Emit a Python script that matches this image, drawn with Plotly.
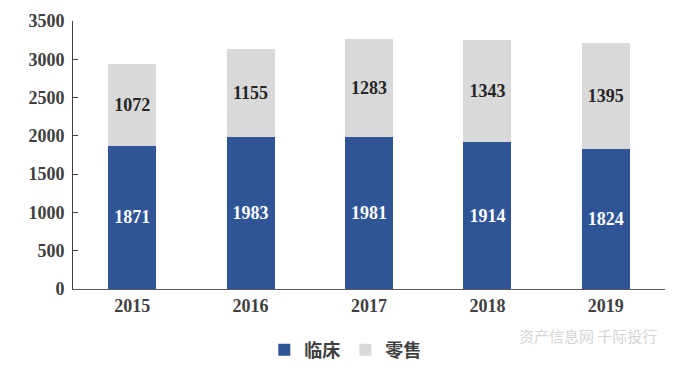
import plotly.graph_objects as go

years = ["2015", "2016", "2017", "2018", "2019"]
clinical = [1871, 1983, 1981, 1914, 1824]
retail = [1072, 1155, 1283, 1343, 1395]
y_ticks = [0, 500, 1000, 1500, 2000, 2500, 3000, 3500]

serif = "Times New Roman, Liberation Serif, serif"
cjk = "Noto Sans CJK SC"

fig = go.Figure()
fig.add_trace(go.Bar(
    x=years, y=clinical, name="临床",
    marker=dict(color="#2F5597", line=dict(width=0)),
    text=clinical, textposition="inside", insidetextanchor="middle", textangle=0,
    textfont=dict(family=serif, size=18, color="white", weight="bold"),
))
fig.add_trace(go.Bar(
    x=years, y=retail, name="零售",
    marker=dict(color="#D9D9D9", line=dict(width=0)),
    text=retail, textposition="inside", insidetextanchor="middle", textangle=0,
    textfont=dict(family=serif, size=18, color="#262626", weight="bold"),
))

# page body has an 8px default margin, so the figure is sized to fit the 700x376 window
fig.update_layout(
    barmode="stack",
    bargap=0.595,
    width=692, height=368,
    margin=dict(l=65, r=35, t=13, b=87, autoexpand=False),
    paper_bgcolor="white", plot_bgcolor="white",
    showlegend=True,
    legend=dict(orientation="h", x=0.46, xanchor="center", y=-0.228, yanchor="middle",
                font=dict(family=cjk, size=18, color="#404040", weight="bold"),
                itemwidth=30, traceorder="normal"),
    xaxis=dict(showline=True, linecolor="#595959", linewidth=1, ticks="", automargin=False,
               tickfont=dict(family=serif, size=18, color="#404040", weight="bold"),
               showgrid=False),
    yaxis=dict(range=[0, 3500], tickvals=y_ticks, showline=True, linecolor="#404040", linewidth=1,
               ticks="inside", ticklen=5, tickcolor="#404040", showgrid=False, zeroline=False,
               automargin=False, ticklabelstandoff=4,
               tickfont=dict(family=serif, size=18, color="#404040", weight="bold")),
    annotations=[dict(text="资产信息网 千际投行", xref="paper", yref="paper", x=0.87, y=-0.175,
                      xanchor="center", yanchor="middle",
                      showarrow=False, font=dict(family=cjk, size=15, color="#D5D5D5"))],
)

fig.write_html("out.html")
